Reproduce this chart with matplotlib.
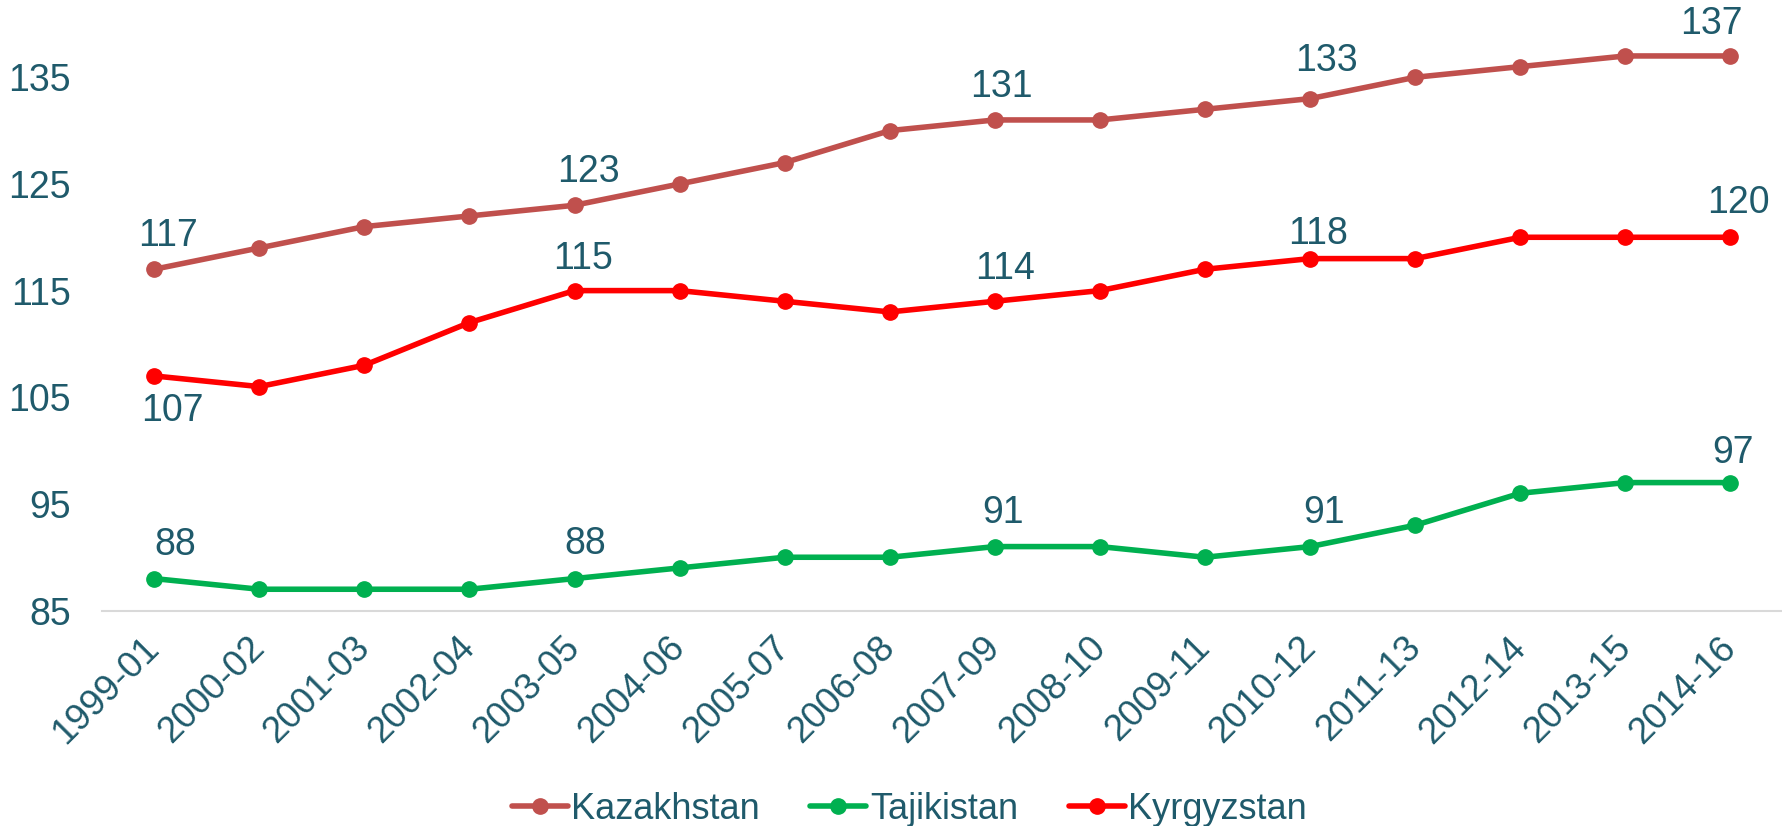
import matplotlib
matplotlib.use("Agg")
import matplotlib.pyplot as plt

periods = ["1999-01", "2000-02", "2001-03", "2002-04", "2003-05", "2004-06", "2005-07",
           "2006-08", "2007-09", "2008-10", "2009-11", "2010-12", "2011-13", "2012-14",
           "2013-15", "2014-16"]
kazakhstan = [117, 119, 121, 122, 123, 125, 127, 130, 131, 131, 132, 133, 135, 136, 137, 137]
tajikistan = [88, 87, 87, 87, 88, 89, 90, 90, 91, 91, 90, 91, 93, 96, 97, 97]
kyrgyzstan = [107, 106, 108, 112, 115, 115, 114, 113, 114, 115, 117, 118, 118, 120, 120, 120]
yticks = [85, 95, 105, 115, 125, 135]

labeled_idx = [0, 4, 8, 11, 15]

TXT = "#1F5A6B"
plt.rcParams['font.family'] = ['Liberation Sans', 'DejaVu Sans']

fig = plt.figure(figsize=(17.83, 8.26), dpi=100)
ax = fig.add_axes([0.057, 0.2608, 0.943, 0.971 - 0.2608])

x = list(range(len(periods)))
series = [
    ("Kazakhstan", kazakhstan, "#C0504D",
     [(10, 24), (10, 24), (5, 24), (12, 27), (-14, 23)]),
    ("Tajikistan", tajikistan, "#00B050",
     [(15, 24), (8, 25), (6, 24), (10, 24), (2, 21)]),
    ("Kyrgyzstan", kyrgyzstan, "#FF0000",
     [(13, -25), (6, 23), (7, 23), (6, 18), (6, 25)]),
]
for name, vals, col, offs in series:
    ax.plot(x, vals, color=col, lw=4, marker='o', markersize=11, label=name,
            solid_capstyle='round')
    for i, (dx, dy) in zip(labeled_idx, offs):
        ax.annotate(str(vals[i]), (x[i], vals[i]), xytext=(dx, dy),
                    textcoords='offset points', ha='center', va='center',
                    fontsize=27, color=TXT)

ax.set_xlim(-0.5, len(periods) - 0.5)
ax.set_ylim(85, 140)
ax.set_yticks(yticks)
ax.set_yticklabels([str(v) for v in yticks], fontsize=27, color=TXT)
ax.set_xticks(x)
ax.set_xticklabels(periods, fontsize=26.5, color=TXT, rotation=45, ha='right',
                   va='center', rotation_mode='anchor')
ax.tick_params(axis='both', length=0)
ax.tick_params(axis='y', pad=22)
ax.tick_params(axis='x', pad=23)
for s in ['top', 'right', 'left']:
    ax.spines[s].set_visible(False)
ax.spines['bottom'].set_color('#D9D9D9')
ax.spines['bottom'].set_linewidth(1.5)

leg = fig.legend(loc='lower center', bbox_to_anchor=(0.51, -0.04), ncol=3, frameon=False,
                 fontsize=26, handlelength=1.55, handletextpad=0.1, columnspacing=1.4)
for t in leg.get_texts():
    t.set_color(TXT)

fig.savefig("out.png", dpi=100)
